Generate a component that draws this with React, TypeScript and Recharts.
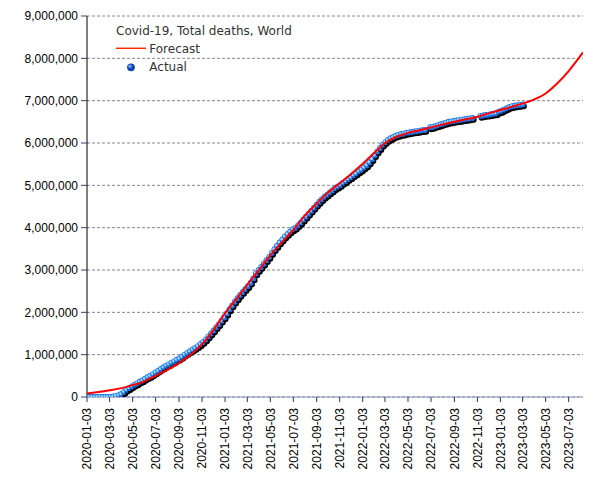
import React from "react";
import { ComposedChart, XAxis, YAxis, CartesianGrid, Line, Scatter } from "recharts";

// ---------- data ----------
const xTickLabels = [
  "2020-01-03", "2020-03-03", "2020-05-03", "2020-07-03", "2020-09-03", "2020-11-03",
  "2021-01-03", "2021-03-03", "2021-05-03", "2021-07-03", "2021-09-03", "2021-11-03",
  "2022-01-03", "2022-03-03", "2022-05-03", "2022-07-03", "2022-09-03", "2022-11-03",
  "2023-01-03", "2023-03-03", "2023-05-03", "2023-07-03",
];
const xDomainLabels = ["2020-01-03", "2023-08-10"];
const yTicks = [0, 1000000, 2000000, 3000000, 4000000, 5000000, 6000000, 7000000, 8000000, 9000000];

// Actual: weekly observations starting at actualStart (thousands of deaths), null = no report
const actualStart = "2020-01-03";
const actualStepDays = 7;
const actualK: (number | null)[] = [
  0, 0, 0, 0, 0, 0, 0, 0, 0, 0, 10, 20, 40, 70, 120, 170, 210, 250, 290, 320,
  360, 390, 430, 470, 500, 540, 580, 620, 660, 700, 740, 770, 810, 840, 880, 910,
  950, 1000, 1040, 1080, 1120, 1160, 1200, 1250, 1300, 1360, 1430, 1500, 1570, 1650,
  1720, 1800, 1880, 1970, 2070, 2160, 2250, 2330, 2410, 2480, 2550, 2620, 2700, 2800,
  2920, 3000, 3070, 3150, 3230, 3310, 3400, 3490, 3570, 3650, 3720, 3790, 3850, 3910,
  3960, 4000, 4060, 4120, 4190, 4260, 4330, 4400, 4470, 4540, 4610, 4670, 4730, 4780,
  4830, 4880, 4930, 4970, 5010, 5060, 5100, 5150, 5190, 5240, 5280, 5330, 5370, 5420,
  5470, 5540, 5620, 5710, 5800, 5880, 5960, 6020, 6070, 6110, 6140, 6170, 6190, 6210,
  6220, 6240, 6250, 6260, 6270, 6280, 6290, 6300, 6310, null, 6370, 6380, 6400, 6420,
  6440, 6460, 6480, 6500, 6510, 6520, 6530, 6540, 6550, 6560, 6570, 6580, 6590, null,
  null, 6640, 6650, 6660, 6670, 6680, 6690, 6700, 6740, 6760, 6790, 6820, 6850, 6870,
  6880, 6890, 6900, 6910,
];

// Forecast curve (thousands of deaths)
const forecastDates = [
  "2020-01-03", "2020-02-03", "2020-03-03", "2020-04-03", "2020-05-03", "2020-06-03",
  "2020-07-03", "2020-08-03", "2020-09-03", "2020-10-03", "2020-11-03", "2020-12-03",
  "2021-01-03", "2021-02-03", "2021-03-03", "2021-04-03", "2021-05-03", "2021-06-03",
  "2021-07-03", "2021-08-03", "2021-09-03", "2021-10-03", "2021-11-03", "2021-12-03",
  "2022-01-03", "2022-02-03", "2022-03-03", "2022-04-03", "2022-05-03", "2022-06-03",
  "2022-07-03", "2022-08-03", "2022-09-03", "2022-10-03", "2022-11-03", "2022-12-03",
  "2023-01-03", "2023-02-03", "2023-03-03", "2023-04-03", "2023-05-03", "2023-06-03",
  "2023-07-03", "2023-08-10",
];
const forecastK = [
  80, 120, 160, 210, 280, 370, 500, 640, 800, 990, 1250, 1580,
  1980, 2330, 2650, 3010, 3350, 3660, 3950, 4290, 4570, 4830, 5050, 5270,
  5510, 5770, 6000, 6150, 6240, 6300, 6370, 6440, 6500, 6560, 6620, 6700,
  6780, 6860, 6930, 7030, 7170, 7410, 7700, 8140,
];

// ---------- derived ----------
const DAY = 86400000;
const xTicks = xTickLabels.map((d) => Date.parse(d));
const xDomain = xDomainLabels.map((d) => Date.parse(d));
const actualData = actualK
  .map((v, i) => (v == null ? null : { t: Date.parse(actualStart) + i * actualStepDays * DAY, v: v * 1000 }))
  .filter((d): d is { t: number; v: number } => d !== null);
const forecastData = forecastDates.map((d, i) => ({ t: Date.parse(d), v: forecastK[i] * 1000 }));

const fmtDate = (ms: number) => {
  const d = new Date(ms);
  const m = String(d.getUTCMonth() + 1).padStart(2, "0");
  const day = String(d.getUTCDate()).padStart(2, "0");
  return `${d.getUTCFullYear()}-${m}-${day}`;
};

const TICK_FONT = "'Liberation Sans', Arial, sans-serif";
const LEGEND_FONT = "'DejaVu Sans', sans-serif";
const W = 605;
const H = 480;
const M = { top: 16, right: 22, left: 0, bottom: 0 };
const Y_W = 87;
const X_H = 83;

const Sphere = (props: any) => {
  const { cx, cy } = props;
  if (cx == null || cy == null || isNaN(cx) || isNaN(cy)) return null;
  return (
    <g>
      <circle cx={cx + 1.2} cy={cy + 1.8} r={3} fill="#000" />
      <circle cx={cx} cy={cy} r={3} fill="#2274e8" />
      <circle cx={cx - 0.6} cy={cy - 0.6} r={1.5} fill="#9ee2ff" />
    </g>
  );
};

const XTick = (props: any) => {
  const { x, y, payload } = props;
  return (
    <g transform={`translate(${x},${y})`}>
      <text
        transform="rotate(-90)"
        x={0}
        y={0}
        dy="0.35em"
        textAnchor="end"
        fill="#000"
        fontSize={12}
        fontFamily={TICK_FONT}
      >
        {fmtDate(payload.value)}
      </text>
    </g>
  );
};

export default function App() {
  return (
    <div style={{ position: "absolute", left: 0, top: 0, width: W, height: H, background: "#fff" }}>
      {/* base layer: axes, grid, actual points */}
      <ComposedChart width={W} height={H} margin={M}>
        <CartesianGrid vertical={false} stroke="#888" strokeDasharray="3 2" />
        <XAxis
          type="number"
          dataKey="t"
          domain={xDomain}
          ticks={xTicks}
          interval={0}
          allowDataOverflow
          height={X_H}
          tickSize={5}
          tickMargin={6}
          tick={<XTick />}
          axisLine={{ stroke: "#8896c0" }}
          tickLine={{ stroke: "#223377" }}
        />
        <YAxis
          type="number"
          dataKey="v"
          domain={[0, 9000000]}
          ticks={yTicks}
          interval={0}
          allowDataOverflow
          width={Y_W}
          tickSize={6}
          tickMargin={3}
          tickFormatter={(v: number) => v.toLocaleString("en-US")}
          tick={{ fill: "#000", fontSize: 12, fontFamily: TICK_FONT }}
          axisLine={{ stroke: "#000" }}
          tickLine={{ stroke: "#334477" }}
        />
        <Scatter data={actualData} dataKey="v" shape={Sphere} isAnimationActive={false} />
      </ComposedChart>
      {/* top layer: forecast line drawn above the points */}
      <div style={{ position: "absolute", left: 0, top: 0 }}>
        <ComposedChart
          width={W}
          height={H}
          margin={{ top: M.top, right: M.right, left: M.left + Y_W, bottom: M.bottom + X_H }}
        >
          <XAxis type="number" dataKey="t" domain={xDomain} ticks={xTicks} allowDataOverflow hide />
          <YAxis type="number" dataKey="v" domain={[0, 9000000]} ticks={yTicks} allowDataOverflow hide />
          <Line
            data={forecastData}
            dataKey="v"
            type="monotone"
            stroke="#ff0000"
            strokeWidth={2}
            dot={false}
            activeDot={false}
            isAnimationActive={false}
          />
        </ComposedChart>
      </div>
      <svg width={W} height={H} style={{ position: "absolute", left: 0, top: 0, pointerEvents: "none" }}>
        <text x={116} y={35.3} fontSize={12} fontFamily={LEGEND_FONT} fill="#333">
          Covid-19, Total deaths, World
        </text>
        <line x1={116} y1={48.3} x2={146} y2={48.3} stroke="#ff2a00" strokeWidth={1.5} />
        <text x={149.3} y={53.3} fontSize={12} fontFamily={LEGEND_FONT} fill="#333">
          Forecast
        </text>
        <circle cx={131} cy={67.3} r={3.9} fill="#1446b0" />
        <circle cx={130} cy={66.2} r={1.8} fill="#6aa0ef" />
        <text x={149.3} y={71} fontSize={12} fontFamily={LEGEND_FONT} fill="#333">
          Actual
        </text>
      </svg>
    </div>
  );
}
